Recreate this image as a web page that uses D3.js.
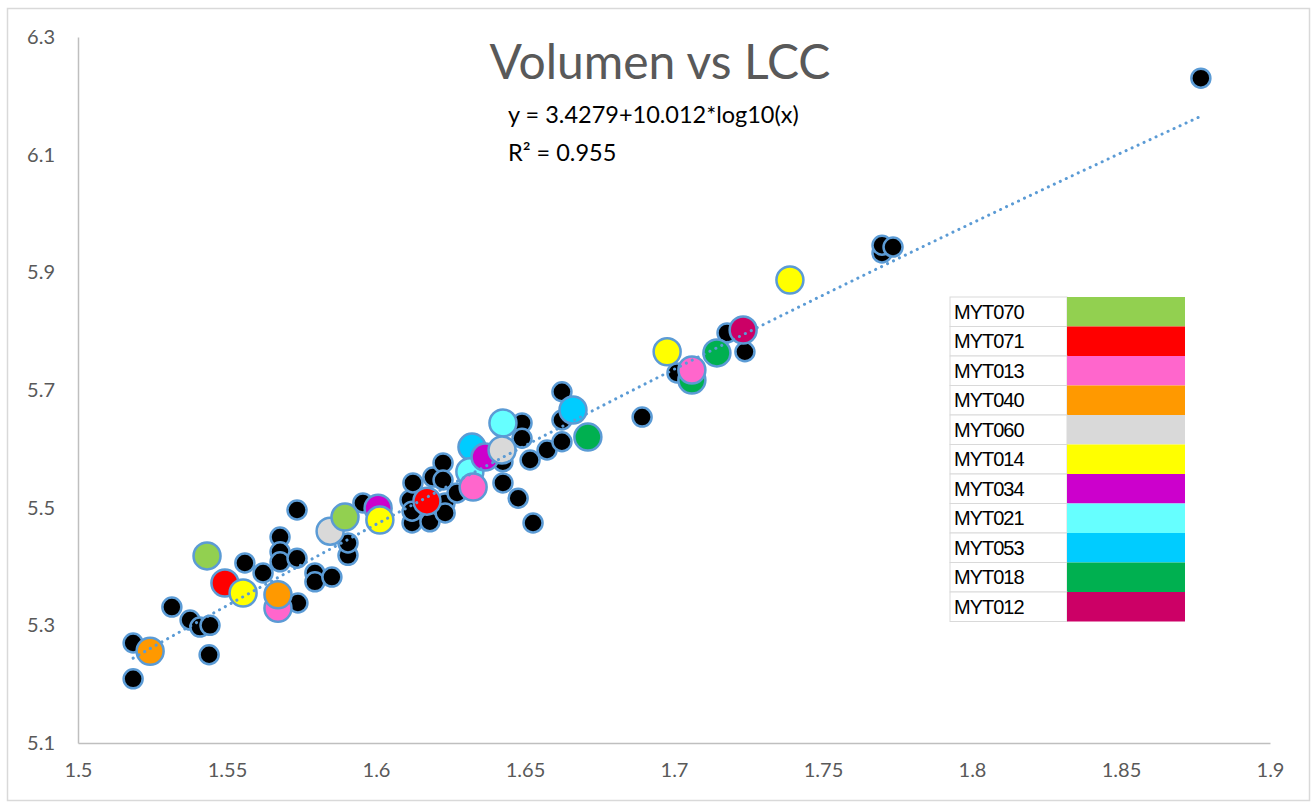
<!DOCTYPE html>
<html>
<head>
<meta charset="utf-8">
<script src="https://cdn.jsdelivr.net/npm/d3@7"></script>
<style>
  body { margin: 0; background: #fff; }
  svg { display: block; }
</style>
</head>
<body>
<svg id="chart" width="1316" height="804"></svg>
<script>
// axis ticks
const xTicks = [1.5, 1.55, 1.6, 1.65, 1.7, 1.75, 1.8, 1.85, 1.9];
const yTicks = [5.1, 5.3, 5.5, 5.7, 5.9, 6.1, 6.3];

// legend series + colours (legend order)
const seriesNames = ["MYT070", "MYT071", "MYT013", "MYT040", "MYT060", "MYT014",
                     "MYT034", "MYT021", "MYT053", "MYT018", "MYT012"];
const seriesColors = ["#92D050", "#FF0000", "#FF66CC", "#FF9900", "#D9D9D9", "#FFFF00",
                      "#CC00CC", "#66FFFF", "#00CCFF", "#00B050", "#CC0066"];

// unlabelled samples (black)
const otherPoints = [
  [1.5185, 5.209], [1.5185, 5.270], [1.5315, 5.331], [1.5376, 5.309], [1.5409, 5.297],
  [1.5443, 5.300], [1.5440, 5.250], [1.5560, 5.406], [1.5621, 5.389], [1.5678, 5.450],
  [1.5678, 5.425], [1.5678, 5.408], [1.5735, 5.414], [1.5738, 5.338], [1.5735, 5.496],
  [1.5795, 5.389], [1.5795, 5.374], [1.5852, 5.382], [1.5906, 5.419], [1.5906, 5.440],
  [1.5956, 5.508], [1.6114, 5.513], [1.6124, 5.542], [1.6121, 5.474], [1.6121, 5.494],
  [1.6181, 5.476], [1.6191, 5.552], [1.6225, 5.576], [1.6225, 5.547], [1.6232, 5.508],
  [1.6232, 5.491], [1.6272, 5.525], [1.6426, 5.542], [1.6426, 5.578], [1.6477, 5.516],
  [1.6527, 5.474], [1.6517, 5.581], [1.6490, 5.644], [1.6490, 5.618], [1.6574, 5.598],
  [1.6624, 5.612], [1.6624, 5.649], [1.6624, 5.697], [1.6893, 5.654], [1.7010, 5.729],
  [1.7178, 5.797], [1.7238, 5.765], [1.7698, 5.933], [1.7698, 5.946], [1.7735, 5.943],
  [1.8768, 6.230]
];

// labelled samples, per series
const seriesPoints = {
  MYT070: [[1.5433, 5.418], [1.5896, 5.484]],
  MYT071: [[1.5493, 5.372], [1.6171, 5.511]],
  MYT013: [[1.5671, 5.329], [1.6326, 5.535], [1.7060, 5.734]],
  MYT040: [[1.5242, 5.256], [1.5671, 5.352]],
  MYT060: [[1.5846, 5.460], [1.6423, 5.598]],
  MYT014: [[1.5554, 5.355], [1.6013, 5.479], [1.6977, 5.765], [1.7389, 5.887]],
  MYT034: [[1.6007, 5.499], [1.6366, 5.586]],
  MYT021: [[1.6315, 5.561], [1.6426, 5.644]],
  MYT053: [[1.6322, 5.603], [1.6661, 5.666]],
  MYT018: [[1.6711, 5.620], [1.7060, 5.717], [1.7144, 5.763]],
  MYT012: [[1.7232, 5.802]]
};

// the order the coloured markers are stacked in
const drawOrder = ["MYT053", "MYT021", "MYT018", "MYT034", "MYT013", "MYT040",
                   "MYT071", "MYT014", "MYT060", "MYT070", "MYT012"];

// log trend fit shown on the chart
const fitA = 3.4279, fitB = 10.012;

const svg = d3.select("#chart");
const plotLeft = 78, plotRight = 1270, plotTop = 37, plotBottom = 743;

const x = d3.scaleLinear().domain([1.5, 1.9]).range([plotLeft, plotRight]);
const y = d3.scaleLinear().domain([5.1, 6.3]).range([plotBottom, plotTop]);
const color = d3.scaleOrdinal().domain(seriesNames).range(seriesColors);

// outer frame
svg.append("rect")
  .attr("x", 7.5).attr("y", 8.5)
  .attr("width", 1302).attr("height", 792)
  .attr("fill", "#fff")
  .attr("stroke", "#D9D9D9")
  .attr("stroke-width", 1.5);

// axes
const xAxis = svg.append("g")
  .attr("transform", `translate(0,${plotBottom})`)
  .call(d3.axisBottom(x).tickValues(xTicks).tickSize(0).tickPadding(20).tickFormat(d => d3.format("")(d)));
const yAxis = svg.append("g")
  .attr("transform", `translate(${plotLeft},0)`)
  .call(d3.axisLeft(y).tickValues(yTicks).tickSize(0).tickPadding(23).tickFormat(d3.format(".1f")));

[xAxis, yAxis].forEach(g => {
  g.select(".domain").attr("stroke", "#BFBFBF").attr("stroke-width", 1.5);
  g.selectAll("text")
    .attr("fill", "#595959")
    .attr("font-family", "Lato, sans-serif")
    .attr("font-size", 20);
});

// trendline
const xs = d3.extent(otherPoints.concat(...Object.values(seriesPoints)), d => d[0]);
const trend = d3.range(0, 101).map(i => {
  const xv = xs[0] + (xs[1] - xs[0]) * i / 100;
  return [xv, fitA + fitB * Math.log10(xv)];
});

const markers = svg.append("g");

markers.selectAll(".other")
  .data(otherPoints)
  .join("circle")
  .attr("class", "other")
  .attr("cx", d => x(d[0]))
  .attr("cy", d => y(d[1]))
  .attr("r", 9.5)
  .attr("fill", "#000")
  .attr("stroke", "#5B9BD5")
  .attr("stroke-width", 2.5);

drawOrder.forEach(name => {
  markers.selectAll(null)
    .data(seriesPoints[name])
    .join("circle")
    .attr("cx", d => x(d[0]))
    .attr("cy", d => y(d[1]))
    .attr("r", 13.5)
    .attr("fill", color(name))
    .attr("stroke", "#5B9BD5")
    .attr("stroke-width", 2.5);
});

svg.append("path")
  .datum(trend)
  .attr("d", d3.line().x(d => x(d[0])).y(d => y(d[1])))
  .attr("fill", "none")
  .attr("stroke", "#5B9BD5")
  .attr("stroke-width", 3)
  .attr("stroke-linecap", "round")
  .attr("stroke-dasharray", "0.1 6.5");

// title
svg.append("text")
  .attr("x", 660)
  .attr("y", 79)
  .attr("text-anchor", "middle")
  .attr("font-family", "Lato, sans-serif")
  .attr("font-size", 48)
  .attr("fill", "#595959")
  .text("Volumen vs LCC");

// equation label
const eq = svg.append("g")
  .attr("font-family", "Lato, sans-serif")
  .attr("font-size", 23.5)
  .attr("fill", "#000");
eq.append("text").attr("x", 508).attr("y", 123).text("y = 3.4279+10.012*log10(x)");
eq.append("text").attr("x", 508).attr("y", 161).text("R² = 0.955");

// legend table
const legX = 950, legY = 297, rowH = 29.5, labW = 117, swW = 118;
const legend = svg.append("g");
const rows = legend.selectAll("g")
  .data(seriesNames)
  .join("g")
  .attr("transform", (d, i) => `translate(${legX},${legY + i * rowH})`);

rows.append("rect")
  .attr("width", labW).attr("height", rowH)
  .attr("fill", "#fff")
  .attr("stroke", "#D9D9D9")
  .attr("stroke-width", 1);

rows.append("rect")
  .attr("x", labW).attr("width", swW).attr("height", rowH)
  .attr("fill", d => color(d));

rows.append("text")
  .attr("x", 4)
  .attr("y", rowH / 2)
  .attr("dy", "0.36em")
  .attr("font-family", "'Liberation Sans', Arial, sans-serif")
  .attr("font-size", 20)
  .attr("letter-spacing", -1)
  .attr("fill", "#000")
  .text(d => d);
</script>
</body>
</html>
